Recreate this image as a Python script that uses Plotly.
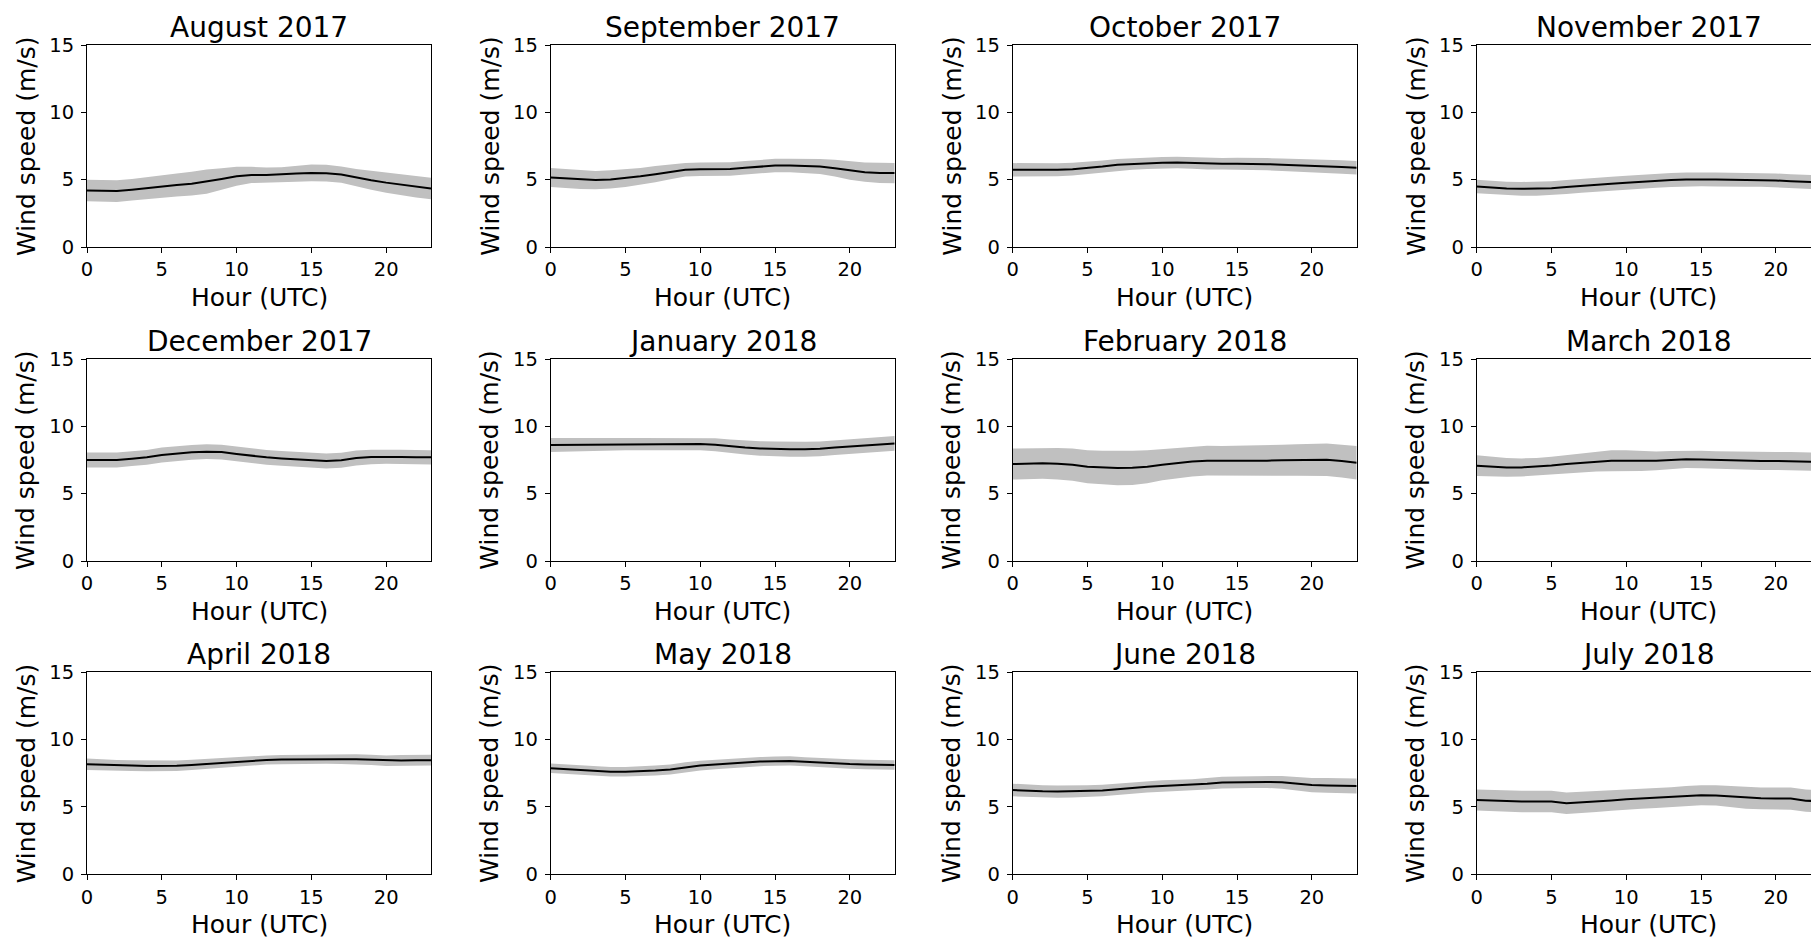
import plotly.graph_objects as go

# ---------------- data ----------------
HOURS = list(range(24))
X_TICKS = [0, 5, 10, 15, 20]
Y_TICKS = [0, 5, 10, 15]

MONTH_TITLES = ["August 2017", "September 2017", "October 2017", "November 2017",
                "December 2017", "January 2018", "February 2018", "March 2018",
                "April 2018", "May 2018", "June 2018", "July 2018"]

MEAN_AUG_2017 = [4.20, 4.17, 4.15, 4.25, 4.38, 4.50, 4.60, 4.70, 4.85, 5.05, 5.25, 5.35,
                 5.35, 5.38, 5.45, 5.50, 5.48, 5.38, 5.15, 4.95, 4.78, 4.62, 4.47, 4.35]
SPREAD_AUG_2017 = [0.80, 0.80, 0.80, 0.80, 0.82, 0.85, 0.85, 0.88, 0.90, 0.80, 0.70, 0.60,
                   0.55, 0.55, 0.60, 0.62, 0.62, 0.60, 0.65, 0.70, 0.75, 0.78, 0.80, 0.80]

MEAN_SEP_2017 = [5.16, 5.08, 5.00, 4.97, 5.02, 5.11, 5.25, 5.41, 5.58, 5.73, 5.78, 5.78,
                 5.80, 5.88, 5.97, 6.05, 6.05, 6.03, 5.98, 5.85, 5.68, 5.56, 5.50, 5.49]
SPREAD_SEP_2017 = [0.70, 0.70, 0.70, 0.68, 0.68, 0.65, 0.62, 0.60, 0.55, 0.50, 0.50, 0.50,
                   0.50, 0.50, 0.50, 0.50, 0.50, 0.52, 0.55, 0.62, 0.68, 0.72, 0.75, 0.75]

MEAN_OCT_2017 = [5.73, 5.72, 5.71, 5.73, 5.78, 5.86, 5.97, 6.10, 6.17, 6.23, 6.26, 6.28,
                 6.24, 6.18, 6.18, 6.18, 6.18, 6.15, 6.11, 6.08, 6.04, 6.00, 5.94, 5.88]
SPREAD_OCT_2017 = [0.50, 0.50, 0.50, 0.48, 0.47, 0.45, 0.45, 0.44, 0.43, 0.43, 0.43, 0.43,
                   0.43, 0.43, 0.43, 0.44, 0.45, 0.45, 0.46, 0.47, 0.48, 0.49, 0.50, 0.50]

MEAN_NOV_2017 = [4.50, 4.42, 4.35, 4.32, 4.33, 4.37, 4.45, 4.55, 4.63, 4.70, 4.77, 4.85,
                 4.92, 4.97, 5.01, 5.04, 5.02, 4.99, 4.99, 4.99, 4.94, 4.89, 4.84, 4.80]
SPREAD_NOV_2017 = [0.50, 0.50, 0.50, 0.51, 0.52, 0.52, 0.52, 0.52, 0.52, 0.52, 0.52, 0.52,
                   0.52, 0.52, 0.52, 0.52, 0.52, 0.52, 0.52, 0.52, 0.52, 0.52, 0.52, 0.52]

MEAN_DEC_2017 = [7.50, 7.50, 7.50, 7.60, 7.70, 7.87, 7.98, 8.07, 8.12, 8.09, 7.95, 7.82,
                 7.70, 7.62, 7.55, 7.48, 7.43, 7.48, 7.65, 7.72, 7.75, 7.73, 7.71, 7.70]
SPREAD_DEC_2017 = [0.55, 0.55, 0.55, 0.55, 0.55, 0.55, 0.55, 0.55, 0.55, 0.55, 0.55, 0.55,
                   0.55, 0.55, 0.56, 0.56, 0.56, 0.56, 0.55, 0.54, 0.53, 0.53, 0.53, 0.53]

MEAN_JAN_2018 = [8.61, 8.62, 8.64, 8.66, 8.67, 8.68, 8.68, 8.68, 8.68, 8.68, 8.68, 8.63,
                 8.52, 8.42, 8.36, 8.32, 8.30, 8.30, 8.33, 8.42, 8.50, 8.59, 8.67, 8.73]
SPREAD_JAN_2018 = [0.52, 0.50, 0.48, 0.46, 0.45, 0.45, 0.45, 0.45, 0.45, 0.45, 0.46, 0.48,
                   0.50, 0.52, 0.54, 0.55, 0.55, 0.55, 0.55, 0.55, 0.55, 0.55, 0.55, 0.55]

MEAN_FEB_2018 = [7.20, 7.23, 7.25, 7.22, 7.15, 7.00, 6.94, 6.90, 6.92, 7.00, 7.15, 7.27,
                 7.38, 7.45, 7.44, 7.43, 7.44, 7.45, 7.48, 7.50, 7.52, 7.52, 7.42, 7.30]
SPREAD_FEB_2018 = [1.15, 1.15, 1.15, 1.17, 1.20, 1.23, 1.25, 1.27, 1.27, 1.22, 1.15, 1.12,
                   1.10, 1.10, 1.10, 1.12, 1.13, 1.14, 1.15, 1.17, 1.18, 1.20, 1.22, 1.24]

MEAN_MAR_2018 = [7.08, 7.01, 6.95, 6.95, 7.00, 7.10, 7.20, 7.30, 7.39, 7.45, 7.45, 7.43,
                 7.44, 7.50, 7.55, 7.53, 7.50, 7.47, 7.43, 7.43, 7.43, 7.43, 7.38, 7.36]
SPREAD_MAR_2018 = [0.77, 0.73, 0.70, 0.67, 0.65, 0.65, 0.68, 0.72, 0.75, 0.78, 0.78, 0.75,
                   0.70, 0.67, 0.65, 0.65, 0.65, 0.66, 0.67, 0.67, 0.67, 0.67, 0.67, 0.67]

MEAN_APR_2018 = [8.17, 8.12, 8.09, 8.07, 8.05, 8.04, 8.06, 8.12, 8.20, 8.29, 8.37, 8.44,
                 8.49, 8.52, 8.54, 8.55, 8.56, 8.55, 8.54, 8.50, 8.44, 8.45, 8.46, 8.47]
SPREAD_APR_2018 = [0.42, 0.41, 0.40, 0.40, 0.40, 0.40, 0.39, 0.38, 0.37, 0.36, 0.35, 0.34,
                   0.34, 0.34, 0.34, 0.34, 0.35, 0.36, 0.37, 0.38, 0.39, 0.40, 0.40, 0.40]

MEAN_MAY_2018 = [7.87, 7.80, 7.72, 7.66, 7.62, 7.62, 7.64, 7.70, 7.78, 7.95, 8.07, 8.15,
                 8.24, 8.31, 8.37, 8.40, 8.42, 8.36, 8.29, 8.24, 8.19, 8.16, 8.14, 8.12]
SPREAD_MAY_2018 = [0.35, 0.35, 0.35, 0.35, 0.35, 0.35, 0.36, 0.37, 0.37, 0.37, 0.36, 0.35,
                   0.35, 0.34, 0.34, 0.34, 0.34, 0.34, 0.34, 0.34, 0.35, 0.35, 0.35, 0.35]

MEAN_JUN_2018 = [6.26, 6.20, 6.16, 6.14, 6.15, 6.17, 6.22, 6.31, 6.42, 6.50, 6.56, 6.60,
                 6.63, 6.72, 6.81, 6.84, 6.85, 6.86, 6.83, 6.73, 6.63, 6.60, 6.58, 6.56]
SPREAD_JUN_2018 = [0.47, 0.46, 0.45, 0.45, 0.44, 0.44, 0.43, 0.43, 0.43, 0.43, 0.43, 0.43,
                   0.43, 0.43, 0.43, 0.43, 0.44, 0.45, 0.47, 0.50, 0.53, 0.55, 0.56, 0.56]

MEAN_JUL_2018 = [5.52, 5.47, 5.42, 5.41, 5.40, 5.41, 5.28, 5.33, 5.40, 5.48, 5.57, 5.62,
                 5.67, 5.72, 5.80, 5.87, 5.86, 5.78, 5.67, 5.64, 5.62, 5.62, 5.47, 5.42]
SPREAD_JUL_2018 = [0.78, 0.79, 0.80, 0.80, 0.80, 0.80, 0.80, 0.80, 0.78, 0.77, 0.76, 0.75,
                   0.75, 0.75, 0.75, 0.75, 0.76, 0.78, 0.80, 0.81, 0.82, 0.83, 0.83, 0.83]

MEANS = [MEAN_AUG_2017, MEAN_SEP_2017, MEAN_OCT_2017, MEAN_NOV_2017,
         MEAN_DEC_2017, MEAN_JAN_2018, MEAN_FEB_2018, MEAN_MAR_2018,
         MEAN_APR_2018, MEAN_MAY_2018, MEAN_JUN_2018, MEAN_JUL_2018]
SPREADS = [SPREAD_AUG_2017, SPREAD_SEP_2017, SPREAD_OCT_2017, SPREAD_NOV_2017,
           SPREAD_DEC_2017, SPREAD_JAN_2018, SPREAD_FEB_2018, SPREAD_MAR_2018,
           SPREAD_APR_2018, SPREAD_MAY_2018, SPREAD_JUN_2018, SPREAD_JUL_2018]

X_LABEL = "Hour (UTC)"
Y_LABEL = "Wind speed (m/s)"
X_MAX = 23
Y_MAX = 15

# ---------------- layout geometry (pixels) ----------------
W, H = 1811, 940
COL_LEFT_PX = [87, 550.7, 1012.7, 1476.7]
ROW_TOP_PX = [45, 359, 672.3]
PANEL_W, PANEL_H = 344, 202

FONT = "DejaVu Sans"
TICK_SIZE = 19.5
LABEL_SIZE = 25
TITLE_SIZE = 28
BAND_COLOR = "#c0c0c0"

fig = go.Figure()
layout = dict(
    template="none",
    width=W, height=H, autosize=False,
    margin=dict(l=0, r=0, t=0, b=0, pad=0),
    paper_bgcolor="white", plot_bgcolor="white",
    showlegend=False,
    font=dict(family=FONT, color="black", size=TICK_SIZE),
)
annotations = []

for i in range(12):
    r, c = divmod(i, 4)
    n = i + 1
    xa = "x" if n == 1 else f"x{n}"
    ya = "y" if n == 1 else f"y{n}"
    mean = MEANS[i]
    spread = SPREADS[i]
    upper = [m + s for m, s in zip(mean, spread)]
    lower = [m - s for m, s in zip(mean, spread)]

    fig.add_trace(go.Scatter(x=HOURS, y=upper, mode="lines", line=dict(width=0, color=BAND_COLOR),
                             xaxis=xa, yaxis=ya, hoverinfo="skip"))
    fig.add_trace(go.Scatter(x=HOURS, y=lower, mode="lines", line=dict(width=0, color=BAND_COLOR),
                             fill="tonexty", fillcolor=BAND_COLOR,
                             xaxis=xa, yaxis=ya, hoverinfo="skip"))
    fig.add_trace(go.Scatter(x=HOURS, y=mean, mode="lines", line=dict(width=2, color="black"),
                             xaxis=xa, yaxis=ya))

    left = COL_LEFT_PX[c]
    right = min(left + PANEL_W, W)
    top = ROW_TOP_PX[r]
    bottom = top + PANEL_H
    x0, x1 = left / W, right / W
    y0, y1 = 1 - bottom / H, 1 - top / H
    xmax = X_MAX * (right - left) / PANEL_W
    clipped = right < left + PANEL_W

    axis_common = dict(showline=True, linecolor="black", linewidth=1,
                       ticks="outside", ticklen=5, tickwidth=1, tickcolor="black",
                       showgrid=False, zeroline=False, automargin=False,
                       tickfont=dict(family=FONT, size=TICK_SIZE, color="black"))
    layout["xaxis" if n == 1 else f"xaxis{n}"] = dict(
        domain=[x0, x1], range=[0, xmax], anchor=ya, tickvals=X_TICKS,
        mirror=True, **axis_common)
    layout["yaxis" if n == 1 else f"yaxis{n}"] = dict(
        domain=[y0, y1], range=[0, Y_MAX], anchor=xa, tickvals=Y_TICKS,
        mirror=(not clipped), ticklabelstandoff=3, **axis_common)

    xc = (left + left + PANEL_W) / 2 / W
    annotations.append(dict(text=MONTH_TITLES[i], x=xc, y=1 - (top - 18) / H,
                            xref="paper", yref="paper", xanchor="center", yanchor="middle",
                            showarrow=False, font=dict(family=FONT, size=TITLE_SIZE, color="black")))
    annotations.append(dict(text=X_LABEL, x=xc, y=1 - (bottom + 50) / H,
                            xref="paper", yref="paper", xanchor="center", yanchor="middle",
                            showarrow=False, font=dict(family=FONT, size=LABEL_SIZE, color="black")))
    annotations.append(dict(text=Y_LABEL, x=(left - 61) / W, y=1 - (top + PANEL_H / 2) / H,
                            xref="paper", yref="paper", xanchor="center", yanchor="middle",
                            textangle=-90, showarrow=False,
                            font=dict(family=FONT, size=LABEL_SIZE, color="black")))

layout["annotations"] = annotations
fig.update_layout(**layout)
fig.write_html("out.html")
